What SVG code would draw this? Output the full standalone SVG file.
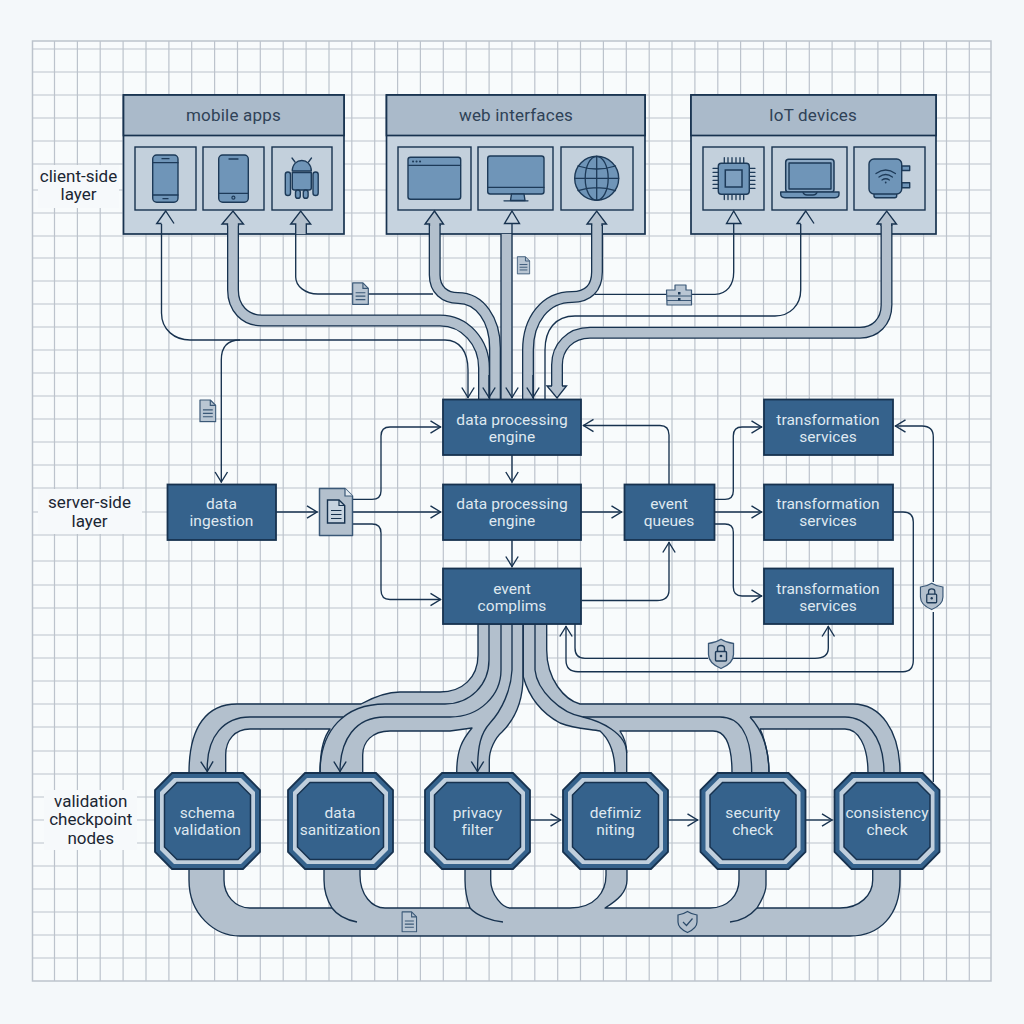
<svg xmlns="http://www.w3.org/2000/svg" xmlns:xlink="http://www.w3.org/1999/xlink" width="1024" height="1024" viewBox="0 0 1024 1024">
<style>
text{font-family:Roboto,"Liberation Sans",sans-serif;text-anchor:middle}
.side{font-size:17px;fill:#1b2633}
.hd{font-size:17px;fill:#2f4257;letter-spacing:.2px}
.w{font-size:15.5px;fill:#dfe8f0;letter-spacing:.05px}
.grid{fill:none;stroke:#bcc3cc;stroke-width:1.2}
.frame{fill:#aabaca;stroke:#17324f;stroke-width:1.7}
.body{fill:#c6d3df;stroke:#17324f;stroke-width:1.7}
.cell{fill:#c3d0dc;stroke:#17324f;stroke-width:1.4}
.node{fill:#35628c;stroke:#17324f;stroke-width:1.8}
.ic{fill:#6f95b8;stroke:#1d3a58;stroke-width:1.4;stroke-linejoin:round}
.il{fill:none;stroke:#1d3a58;stroke-width:1.3;stroke-linecap:round}
.t{fill:none;stroke:#17324f;stroke-width:1.35}
.a{fill:none;stroke:#17324f;stroke-width:1.35;marker-end:url(#chev)}
.po{fill:none;stroke:#17324f;stroke-width:12}
.pi{fill:none;stroke:#b3c0cd;stroke-width:9.4}
.band{fill:#b3c0cd;stroke:#17324f;stroke-width:1.35;stroke-linejoin:round}
.head{fill:#b3c0cd;stroke:#17324f;stroke-width:1.35;stroke-linejoin:miter}
.hol{fill:#c6d3df;stroke:#17324f;stroke-width:1.35}
.docf{fill:#b9c6d3;stroke:#3a5877;stroke-width:1.2;stroke-linejoin:round}
.docl{fill:none;stroke:#3a5877;stroke-width:1.2}
</style>
<defs>
<marker id="chev" markerUnits="userSpaceOnUse" markerWidth="16" markerHeight="18" refX="11.5" refY="7" orient="auto" viewBox="0 0 16 14">
<path d="M1,.8 L11,7 L1,13.2" fill="none" stroke="#17324f" stroke-width="1.4"/>
</marker>
<symbol id="doc" viewBox="0 0 18 24">
<path class="docf" d="M1,1 H11.5 L17,6.5 V23 H1 Z"/><path class="docl" d="M11.5,1 V6.5 H17 M4,11 H14 M4,14.5 H14 M4,18 H14"/>
</symbol>
<g id="oct">
<polygon points="17,0 88,0 105,17 105,79 88,96 17,96 0,79 0,17" fill="#35628c" stroke="#17324f" stroke-width="1.8"/>
<polygon points="19,5 86,5 100,19 100,77 86,91 19,91 5,77 5,19" fill="#c0cfdd"/>
<polygon points="22,9.5 83,9.5 95.5,22 95.5,74 83,86.5 22,86.5 9.5,74 9.5,22" fill="#35628c" stroke="#17324f" stroke-width="1.5"/>
</g>
<g id="shield">
<path d="M13,0.8 C17,3.5 21,4.5 25.5,5 V16 C25.5,23 20,27 13,30 C6,27 .5,23 .5,16 V5 C5,4.5 9,3.5 13,.8 Z" fill="#b3c0cd" stroke="#3a5877" stroke-width="1.3"/>
<rect x="7.5" y="13" width="11" height="9.5" rx="1" fill="none" stroke="#1d3a58" stroke-width="1.4"/>
<path d="M9.5,13 V10 C9.5,6 16.5,6 16.5,10 V13" fill="none" stroke="#1d3a58" stroke-width="1.4"/>
<circle cx="13" cy="17.5" r="1.3" fill="#1d3a58"/>
</g>
</defs>
<rect width="1024" height="1024" fill="#f4f8fa"/>
<rect x="32.5" y="41" width="958.5" height="940" fill="#f8fbfc"/>
<g id="grid">
<path class="grid" d="M54.5,41V981M77.4,41V981M100.2,41V981M123.1,41V981M146,41V981M168.9,41V981M191.7,41V981M214.6,41V981M237.5,41V981M260.3,41V981M283.2,41V981M306.1,41V981M329,41V981M351.8,41V981M374.7,41V981M397.6,41V981M420.4,41V981M443.3,41V981M466.2,41V981M489.1,41V981M511.9,41V981M534.8,41V981M557.7,41V981M580.5,41V981M603.4,41V981M626.3,41V981M649.2,41V981M672,41V981M694.9,41V981M717.8,41V981M740.6,41V981M763.5,41V981M786.4,41V981M809.3,41V981M832.1,41V981M855,41V981M877.9,41V981M900.7,41V981M923.6,41V981M946.5,41V981M969.3,41V981"/>
<path class="grid" d="M32.5,49H991M32.5,72H991M32.5,95H991M32.5,118H991M32.5,141H991M32.5,164H991M32.5,190H991M32.5,213H991M32.5,236H991M32.5,258H991M32.5,281H991M32.5,304H991M32.5,327H991M32.5,350H991M32.5,373H991M32.5,396H991M32.5,419H991M32.5,442H991M32.5,465H991M32.5,488H991M32.5,512H991M32.5,535H991M32.5,561H991M32.5,585H991M32.5,608H991M32.5,635H991M32.5,658H991M32.5,681H991M32.5,704H991M32.5,727H991M32.5,751H991M32.5,774H991M32.5,797H991M32.5,820H991M32.5,843H991M32.5,866H991M32.5,889H991M32.5,912H991M32.5,935H991M32.5,958H991"/>
<rect x="32.5" y="41" width="958.5" height="940" fill="none" stroke="#bcc3cc" stroke-width="1.5"/>
</g>
<g id="layer-labels">
<rect x="38" y="165" width="81" height="43" fill="#f6f9fb"/>
<rect x="38" y="489" width="104" height="45" fill="#f6f9fb"/>
<rect x="44" y="790" width="93" height="60" fill="#f6f9fb"/>
<text class="side" x="78.5" y="182">client-side</text><text class="side" x="78.5" y="200">layer</text>
<text class="side" x="89.5" y="508">server-side</text><text class="side" x="89.5" y="527">layer</text>
<text class="side" x="90.7" y="806.5">validation</text><text class="side" x="90.7" y="825">checkpoint</text><text class="side" x="90.7" y="844">nodes</text>
</g>
<g id="mobile-apps">
<rect class="body" x="123.5" y="95" width="220.5" height="139"/><rect class="frame" x="123.5" y="95" width="220.5" height="40.5"/>
<text class="hd" x="233.5" y="121">mobile apps</text>
<rect class="cell" x="135" y="147" width="61" height="63"/><rect class="cell" x="203" y="147" width="61" height="63"/><rect class="cell" x="272" y="147" width="60" height="63"/>
<rect class="ic" x="152.7" y="155" width="25.3" height="47.3" rx="4"/><path class="il" d="M153,162.7H178M153,195H178M162,158.7H169M163,198.7H168"/>
<rect class="ic" x="218.7" y="155" width="29.6" height="47.3" rx="4"/><path class="il" d="M219,193.3H248M229,159H238"/><circle cx="233.4" cy="197.7" r="1.5" fill="none" stroke="#1d3a58" stroke-width="1.2"/>
<path class="ic" d="M292.3,171 C292.3,157 311.3,157 311.3,171 Z"/><path class="il" d="M295,162 L292,158M308.5,162 L311.5,158"/>
<path class="ic" d="M292.3,172.5 H311.3 V188 Q311.3,190 309,190 H294.5 Q292.3,190 292.3,188 Z"/>
<rect class="ic" x="285.3" y="172" width="5.2" height="23.5" rx="2.6"/><rect class="ic" x="313" y="172" width="5.2" height="23.5" rx="2.6"/>
<rect class="ic" x="295.5" y="190" width="4.8" height="8.3" rx="2.4"/><rect class="ic" x="303.3" y="190" width="4.8" height="8.3" rx="2.4"/>
</g>
<g id="web-interfaces">
<rect class="body" x="386.5" y="95" width="258.5" height="139"/><rect class="frame" x="386.5" y="95" width="258.5" height="40.5"/>
<text class="hd" x="516" y="121">web interfaces</text>
<rect class="cell" x="398" y="147" width="73" height="63"/><rect class="cell" x="478" y="147" width="75" height="63"/><rect class="cell" x="561" y="147" width="72" height="63"/>
<rect class="ic" x="408" y="157.3" width="52.7" height="42" rx="2.5"/><path class="il" d="M408.5,165.3H460.5"/><path d="M413,161.4h.1M416.5,161.4h.1M420,161.4h.1" stroke="#1d3a58" stroke-width="2" stroke-linecap="round"/>
<rect class="ic" x="487.7" y="156" width="56.3" height="38" rx="2.5"/><path class="il" d="M488,187.3H544M504,200.8H528"/><path class="ic" d="M511.5,194 H524 L525,200.5 H510.5 Z"/>
<circle class="ic" cx="596.7" cy="178.3" r="22"/><ellipse class="il" cx="596.7" cy="178.3" rx="11.5" ry="22"/><path class="il" d="M596.7,156.3V200.3M574.7,178.3H618.7M578,166 Q596.7,172 615.5,166M578,190.6 Q596.7,184.6 615.5,190.6"/>
</g>
<g id="iot-devices">
<rect class="body" x="691" y="95" width="245" height="139"/><rect class="frame" x="691" y="95" width="245" height="40.5"/>
<text class="hd" x="813" y="121">IoT devices</text>
<rect class="cell" x="703" y="147" width="61" height="63"/><rect class="cell" x="772" y="147" width="75" height="63"/><rect class="cell" x="854" y="147" width="71" height="63"/>
<path class="il" d="M724.3,157.7V163.5M728,157.7V163.5M732,157.7V163.5M736,157.7V163.5M740,157.7V163.5M743.7,157.7V163.5M724.3,194V199.5M728,194V199.5M732,194V199.5M736,194V199.5M740,194V199.5M743.7,194V199.5M713,168.3H718.5M713,172.3H718.5M713,176.3H718.5M713,180.3H718.5M713,184.3H718.5M713,188.3H718.5M749,168.3H755M749,172.3H755M749,176.3H755M749,180.3H755M749,184.3H755M749,188.3H755"/>
<rect class="ic" x="718.3" y="163.3" width="31" height="31" rx="3"/><rect x="725.3" y="170" width="16.7" height="17" fill="#7d9fbf" stroke="#1d3a58" stroke-width="1.5"/>
<rect x="785.7" y="159.3" width="48.3" height="33" rx="3" fill="#8daac6" stroke="#1d3a58" stroke-width="1.5"/><rect class="ic" x="789" y="163" width="42" height="26"/>
<path class="ic" d="M780.7,192 H839 V194 Q839,197.7 835,197.7 H785 Q780.7,197.7 780.7,194 Z"/><path class="il" d="M803,192.5 Q804,195 807,195 H813 Q816,195 817,192.5"/>
<rect class="ic" x="901.7" y="166" width="8" height="4.5"/><rect class="ic" x="901.7" y="182.7" width="8" height="5"/><rect class="ic" x="874" y="192" width="22.7" height="5.7" rx="2"/>
<rect class="ic" x="869" y="159" width="32.7" height="35" rx="5"/>
<path class="il" d="M876,173.5 Q885.7,166.5 895.4,173.5M879,177 Q885.7,172 892.4,177M882,180 Q885.7,177.5 889.4,180"/><circle cx="885.7" cy="182.5" r=".9" fill="#1d3a58"/>
</g>
<g id="connectors">
<path class="po" d="M233,225 V290 C233,308 245,320.5 262,320.5 H440 C465,320.5 484,342 484,368 V399"/>
<path class="pi" d="M233,222 V290 C233,308 245,320.5 262,320.5 H440 C465,320.5 484,342 484,368 V399"/>
<path class="po" d="M434.7,225 V275 C434.7,290 445,298 458,298 C480,298 495,320 495,348 V399"/>
<path class="pi" d="M434.7,222 V275 C434.7,290 445,298 458,298 C480,298 495,320 495,348 V399"/>
<rect x="501" y="234" width="11" height="165" fill="#b3c0cd"/>
<path class="t" d="M501,234V399"/>
<path class="po" d="M597,225 V272 C597,288 588,297 572,297 C545,297 528,320 528,350 V399"/>
<path class="pi" d="M597,222 V272 C597,288 588,297 572,297 C545,297 528,320 528,350 V399"/>
<path class="po" d="M886.5,225 V305 C886.5,322 875,332.7 860,332.7 H590 C570,332.7 557,347 557,365 V387"/>
<path class="pi" d="M886.5,222 V305 C886.5,322 875,332.7 860,332.7 H590 C570,332.7 557,347 557,365 V390"/>
<path class="a" d="M161.5,224 V313 C161.5,330 175,340 190,340 H445 C460,340 468,352 468,370 V398"/>
<path class="a" d="M489,375 V398"/><path class="a" d="M512,223 V398"/><path class="a" d="M533,375 V398"/>
<path class="t" d="M295.7,234 V277 C295.7,286 305,294 318,294 H433"/>
<path class="t" d="M595,294.3 H715 C727,294 733.7,285 733.7,272 V223.5"/>
<path class="t" d="M800.7,224 V290 C800.7,305 790,316 775,316 H575 C555,316 545,330 545,350 V399"/>
<path class="hol" d="M161.5,223.5 H156.7 L165.7,211 L174,223.5"/>
<path class="head" d="M227.5,226 V224 H222 L233,211 L243.5,224 H238.5 V226"/>
<path class="head" d="M295.7,234 V224 H290.7 L300.7,211 L310.7,224 H306.3 V234"/>
<path class="head" d="M429.5,226 V224 H425 L434.5,211 L443.5,224 H440 V226"/>
<path class="hol" d="M504.5,223.5 L512,211 L519.5,223.5 Z"/>
<path class="head" d="M591.7,226 V224 H587 L596.7,211 L606.5,224 H602 V226"/>
<path class="hol" d="M726.5,223.5 L733.7,211 L741,223.5 Z"/>
<path class="hol" d="M800.7,223.5 H797 L805.7,211 L814,223.5"/>
<path class="head" d="M881,226 V224 H877 L886.7,211 L896.5,224 H891.7 V226"/>
<path class="head" d="M552,386 H547 L557,398 L566.5,386 H562"/>
<path class="a" d="M240,340 Q221.3,340 221.3,360 V482.5"/>
<path class="a" d="M276,512 H317.5"/>
<path class="a" d="M352.3,499.3 H372 Q381,499.3 381,491 V436 Q381,427 390,427 H441"/>
<path class="a" d="M352.3,512 H441"/>
<path class="a" d="M352.3,524 H372 Q381,524 381,533 V590 Q381,599.5 390,599.5 H441"/>
<path class="a" d="M512,455 V482.5"/><path class="a" d="M512,540 V567"/>
<path class="a" d="M581,512 H622"/>
<path class="a" d="M581.5,600.5 H657 Q669,600.5 669,590 V542"/>
<path class="a" d="M669,484 V435 Q669,425.5 660,425.5 H583"/>
<path class="a" d="M714.3,499.3 H725 Q733.3,499.3 733.3,491 V436 Q733.3,427 742,427 H762"/>
<path class="a" d="M714.3,512 H762"/>
<path class="a" d="M714.3,524 H725 Q733.3,524 733.3,532 V587 Q733.3,596 742,596 H762"/>
<path class="a" d="M893,512 H903 Q913.3,512 913.3,522 V660 Q913.3,671.7 903,671.7 H578 Q566,671.7 566,660 V626"/>
<path class="t" d="M575,624 V648 Q575,658.3 585,658.3 H708"/>
<path class="a" d="M733,658.3 H815 Q828.3,658.3 828.3,648 V626"/>
<path class="a" d="M933.3,582 V437 Q933.3,426 922,426 H895"/>
<path class="t" d="M933.3,612 V782"/>
<path class="band" d="M478,624 V655 C478,678 462,692 440,692 H400 C385,692 372,698 361,704 H237 C208,704 189,725 189,773 H225.7 V755 C225.7,740 235,729 250,729 H330 C323,738 320,755 320,773 H362.7 V755 C362.7,742 372,731 390,731 H450 L472,728 C462,740 456.7,750 456.7,773 H489.3 V760 C489.3,750 495,738 502,732 C512,722 523,705 523,677 V624 Z"/>
<path class="t" d="M489,624 V660 C489,685 470,704 445,704 H385 C345,704 320,730 320,773"/>
<path class="a" d="M501,624 V670 C501,695 480,717 450,717 H385 C355,717 340,740 340,772"/>
<path class="a" d="M250,717 C225,717 206,735 207.3,772"/><path class="t" d="M250,717 H343"/>
<path class="a" d="M512,624 V670 C511,690 502,710 490,723 C481,733 477.5,745 477.5,772"/>
<path class="band" d="M523.3,624 V677 C527,690 536,710 560,723 C575,729 590,729 600,731 C608,738 615,750 615,773 H626.7 V753 C626.7,745 624,737 620,731 H713 C725,731 732,745 732,773 H769 C769,750 762,733 760,729 H845 C858,729 868,745 868,773 H900 C900,730 880,704 853,704 H580 C565,700 546.7,680 546.7,650 V624 Z"/>
<path class="t" d="M535,624 V670 C537,690 560,713 583,717 H720 C740,717 751.7,735 751.7,773"/>
<path class="t" d="M583,717 C600,721 626.7,733 626.7,753"/>
<path class="t" d="M750,717 H845 C865,717 884,735 884,773"/>
<path class="t" d="M750,717 C762,730 769,750 769,773"/>
<path class="a" d="M530,820 H561"/><path class="a" d="M668,820 H698"/><path class="a" d="M806,820 H832.5"/>
<path class="band" d="M189,869 V880 C189,915 215,936 240,936 H850 C880,936 900,915 900,880 V869 H872.7 V880 C872.7,895 860,908 840,908 H757 C762,900 766,892 766,885 V869 H739 V880 C739,895 728,908 710,908 H605 C618,900 627,892 627,880 V869 H606 V875 C606,892 595,908 570,908 H510 C503,908 490.7,895 490.7,880 V869 H465 V880 C465,890 467,900 470,908 H385 C372,908 360,895 360,875 V869 H324 V880 C324,890 327,900 332,908 H250 C235,908 224,895 224,880 V869 Z"/>
<path class="t" d="M332,908 C337,915 347,920 357,922"/>
<path class="t" d="M470,908 C477,916 492,921 503,922"/>
<path class="t" d="M757,908 C750,916 740,921 730,922"/>
</g>
<use href="#doc" x="351.7" y="281.7" width="17.6" height="24"/>
<use href="#doc" x="516.5" y="255" width="14" height="20.6"/>
<use href="#doc" x="199" y="399" width="17.7" height="23.7"/>
<use href="#doc" x="401" y="911" width="16.7" height="21.7"/>
<g id="folder-icon">
<path class="docf" d="M666.5,290 H675 V285 H686 V290 H691.5 V305 H667 Z"/><path class="docl" d="M667,296 H691M667,300.5 H691"/><rect x="678" y="292" width="2.5" height="2.5" fill="#1d3a58"/><rect x="678" y="298" width="2.5" height="2.5" fill="#1d3a58"/>
</g>
<g id="check-shield"><path d="M687.5,911.5 C690.5,913.5 693.5,914.5 697,915 V922 C697,927 693,930 687.5,932.5 C682,930 678,927 678,922 V915 C681.5,914.5 684.5,913.5 687.5,911.5 Z" fill="#b3c0cd" stroke="#2b4a6a" stroke-width="1.2"/><path d="M683,922 L686.5,925.5 L692.5,918.5" fill="none" stroke="#2b4a6a" stroke-width="1.2"/></g>
<use href="#shield" x="708" y="638.5"/>
<use href="#shield" transform="translate(920,582.5) scale(.9)"/>
<g id="doc-hub">
<path d="M319.5,488.5 H345 L352.5,496 V535.5 H319.5 Z" fill="#b3c0cd" stroke="#3a5877" stroke-width="1.5" stroke-linejoin="round"/><path d="M345,488.5 V496 H352.5" fill="#e4ebf1" stroke="#3a5877" stroke-width="1.2"/>
<path d="M327.5,500 H339 L344.7,505.5 V523 H327.5 Z" fill="#c6d3df" stroke="#17324f" stroke-width="1.4"/><path class="t" style="stroke-width:1.2" d="M339,500 V505.5 H344.7M331,510.5 H341.5M331,514.5 H341.5M331,518.5 H341.5"/>
</g>
<g id="data-ingestion"><rect class="node" x="167.5" y="484.5" width="108.5" height="55.5"/><text class="w" x="221.5" y="509">data</text><text class="w" x="221.5" y="526">ingestion</text></g>
<g id="engine-1"><rect class="node" x="443" y="399.5" width="138" height="55.5"/><text class="w" x="512" y="425">data processing</text><text class="w" x="512" y="442">engine</text></g>
<g id="engine-2"><rect class="node" x="443" y="484.5" width="138" height="55.5"/><text class="w" x="512" y="509">data processing</text><text class="w" x="512" y="526">engine</text></g>
<g id="event-complims"><rect class="node" x="443" y="568.5" width="138" height="55.5"/><text class="w" x="512" y="594">event</text><text class="w" x="512" y="610.5">complims</text></g>
<g id="event-queues"><rect class="node" x="624.5" y="484.5" width="90" height="55.5"/><text class="w" x="669" y="509">event</text><text class="w" x="669" y="526">queues</text></g>
<g id="transform-1"><rect class="node" x="764" y="399.5" width="129" height="55.5"/><text class="w" x="828" y="425">transformation</text><text class="w" x="828" y="442">services</text></g>
<g id="transform-2"><rect class="node" x="764" y="484.5" width="129" height="55.5"/><text class="w" x="828" y="509">transformation</text><text class="w" x="828" y="526">services</text></g>
<g id="transform-3"><rect class="node" x="764" y="568.5" width="129" height="55.5"/><text class="w" x="828" y="594">transformation</text><text class="w" x="828" y="610.5">services</text></g>
<g id="schema-validation"><use href="#oct" x="155" y="773"/><text class="w" x="207.3" y="818">schema</text><text class="w" x="207.3" y="835">validation</text></g>
<g id="data-sanitization"><use href="#oct" x="288" y="773"/><text class="w" x="340" y="818">data</text><text class="w" x="340" y="835">sanitization</text></g>
<g id="privacy-filter"><use href="#oct" x="425" y="773"/><text class="w" x="477.5" y="818">privacy</text><text class="w" x="477.5" y="835">filter</text></g>
<g id="defimiz"><use href="#oct" x="563" y="773"/><text class="w" x="615.5" y="818">defimiz</text><text class="w" x="615.5" y="835">niting</text></g>
<g id="security-check"><use href="#oct" x="700.5" y="773"/><text class="w" x="752.7" y="818">security</text><text class="w" x="752.7" y="835">check</text></g>
<g id="consistency-check"><use href="#oct" x="834.5" y="773"/><text class="w" x="887" y="818">consistency</text><text class="w" x="887" y="835">check</text></g>
</svg>
